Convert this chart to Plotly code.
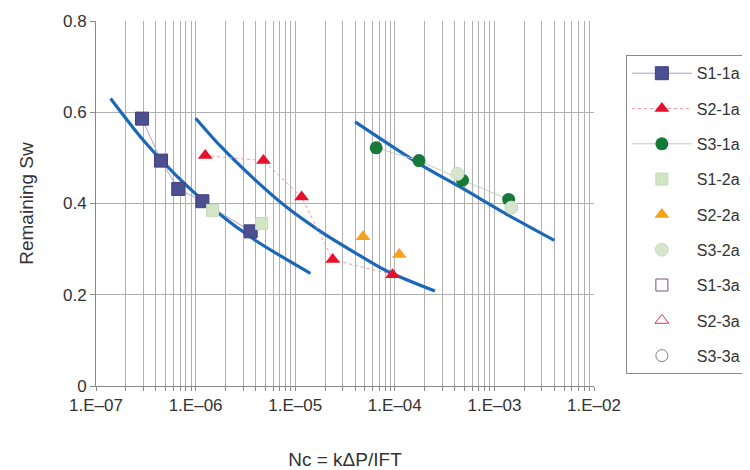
import plotly.graph_objects as go

# ---- data ----
s1_1a_x = [2.9e-7, 4.5e-7, 6.7e-7, 1.17e-6, 3.57e-6]
s1_1a_y = [0.586, 0.494, 0.432, 0.405, 0.339]

s2_1a_x = [1.25e-6, 4.8e-6, 1.16e-5, 2.38e-5, 9.5e-5]
s2_1a_y = [0.505, 0.494, 0.414, 0.277, 0.244]

s3_1a_x = [6.5e-5, 1.75e-4, 4.79e-4, 1.39e-3]
s3_1a_y = [0.522, 0.494, 0.451, 0.409]

s1_2a_x = [1.48e-6, 4.6e-6]
s1_2a_y = [0.385, 0.356]

s2_2a_x = [4.8e-5, 1.11e-4]
s2_2a_y = [0.327, 0.288]

s3_2a_x = [4.27e-4, 1.48e-3]
s3_2a_y = [0.465, 0.391]

# fitted trend curves
fit1_x = [1.4e-7, 3.0e-7, 6.4e-7, 1.5e-6, 4.0e-6, 1.42e-5]
fit1_y = [0.630, 0.538, 0.461, 0.388, 0.319, 0.247]
fit2_x = [1.0e-6, 1.79e-6, 3.86e-6, 8.3e-6, 1.79e-5, 3.86e-5, 8.3e-5, 2.53e-4]
fit2_y = [0.587, 0.525, 0.454, 0.391, 0.339, 0.294, 0.252, 0.208]
fit3_x = [4.0e-5, 1.76e-4, 4.79e-4, 1.39e-3, 4.0e-3]
fit3_y = [0.579, 0.487, 0.433, 0.374, 0.319]

decades = [-7, -6, -5, -4, -3, -2]
decade_labels = ["1.E–07", "1.E–06", "1.E–05", "1.E–04", "1.E–03", "1.E–02"]
y_ticks = [0, 0.2, 0.4, 0.6, 0.8]
y_labels = ["0", "0.2", "0.4", "0.6", "0.8"]

# ---- build tick positions for log grid ----
tickvals, ticktext = [], []
for d, lab in zip(decades, decade_labels):
    for m in range(1, 10):
        if d == decades[-1] and m > 1:
            break
        tickvals.append(m * 10 ** d)
        ticktext.append(lab if m == 1 else "")

fig = go.Figure()

blue = "#1c68b8"
for fx, fy in [(fit1_x, fit1_y), (fit2_x, fit2_y), (fit3_x, fit3_y)]:
    fig.add_trace(go.Scatter(x=fx, y=fy, mode="lines", showlegend=False,
                             line=dict(color=blue, width=3.2, shape="spline", smoothing=0.8),
                             hoverinfo="skip"))

fig.add_trace(go.Scatter(x=s1_1a_x, y=s1_1a_y, name="S1-1a", mode="lines+markers", legendgroup="a",
                         line=dict(color="#a4a4cc", width=1),
                         marker=dict(symbol="square", size=13, color="#4d4f93",
                                     line=dict(color="#3e3f7a", width=1))))
fig.add_trace(go.Scatter(x=s2_1a_x, y=s2_1a_y, name="S2-1a", mode="lines+markers", legendgroup="b",
                         line=dict(color="#f29a9a", width=1, dash="dot"),
                         marker=dict(symbol="triangle-up", size=13, color="#e8112d",
                                     line=dict(color="#e8112d", width=0))))
fig.add_trace(go.Scatter(x=s3_1a_x, y=s3_1a_y, name="S3-1a", mode="lines+markers", legendgroup="c",
                         line=dict(color="#c0cdb8", width=1),
                         marker=dict(symbol="circle", size=13, color="#16793a",
                                     line=dict(color="#16793a", width=0))))
fig.add_trace(go.Scatter(x=s1_2a_x, y=s1_2a_y, name="S1-2a", mode="markers", legendgroup="d",
                         marker=dict(symbol="square", size=12, color="#d2e6c6",
                                     line=dict(color="#c4d8b8", width=1))))
fig.add_trace(go.Scatter(x=s2_2a_x, y=s2_2a_y, name="S2-2a", mode="markers", legendgroup="e",
                         marker=dict(symbol="triangle-up", size=13, color="#f7a21d",
                                     line=dict(color="#f7a21d", width=0))))
fig.add_trace(go.Scatter(x=s3_2a_x, y=s3_2a_y, name="S3-2a", mode="markers", legendgroup="f",
                         marker=dict(symbol="circle", size=13, color="#d6e6cc",
                                     line=dict(color="#c8dcbc", width=1))))
fig.add_trace(go.Scatter(x=[None], y=[None], name="S1-3a", mode="markers", legendgroup="g",
                         marker=dict(symbol="square-open", size=12, color="#7a4f8a")))
fig.add_trace(go.Scatter(x=[None], y=[None], name="S2-3a", mode="markers", legendgroup="h",
                         marker=dict(symbol="triangle-up-open", size=12, color="#e0305a")))
fig.add_trace(go.Scatter(x=[None], y=[None], name="S3-3a", mode="markers", legendgroup="i",
                         marker=dict(symbol="circle-open", size=12, color="#808080")))

font_family = "Liberation Sans, Arial, sans-serif"
grid = "#b0b0b0"
fig.update_layout(
    width=750, height=470,
    margin=dict(l=88, r=162, t=13, b=92),
    paper_bgcolor="white", plot_bgcolor="white",
    font=dict(family=font_family, size=16, color="#333333"),
    showlegend=True,
    legend=dict(x=1.064, y=0.906, xanchor="left", yanchor="top",
                bordercolor="#8a8a8a", borderwidth=1, bgcolor="white",
                font=dict(size=16, color="#333333"), tracegroupgap=11.5,
                itemwidth=60),
    xaxis=dict(type="log", range=[-7, -2], tickmode="array",
               tickvals=tickvals, ticktext=ticktext, automargin=False,
               showgrid=True, gridcolor=grid, gridwidth=1,
               showline=True, linecolor="#8a8a8a", linewidth=1,
               ticks="outside", ticklen=4, tickcolor="#8a8a8a",
               tickfont=dict(size=17), zeroline=False,
               title=dict(text="Nc = kΔP/IFT", font=dict(size=19), standoff=38)),
    yaxis=dict(range=[0, 0.8], tickmode="array", tickvals=y_ticks, ticktext=y_labels,
               automargin=False,
               showgrid=True, gridcolor=grid, gridwidth=1,
               showline=True, linecolor="#8a8a8a", linewidth=1,
               ticks="outside", ticklen=5, tickcolor="#8a8a8a",
               tickfont=dict(size=17), zeroline=False,
               title=dict(text="Remaining Sw", font=dict(size=19), standoff=24)),
)

fig.write_html("out.html")
